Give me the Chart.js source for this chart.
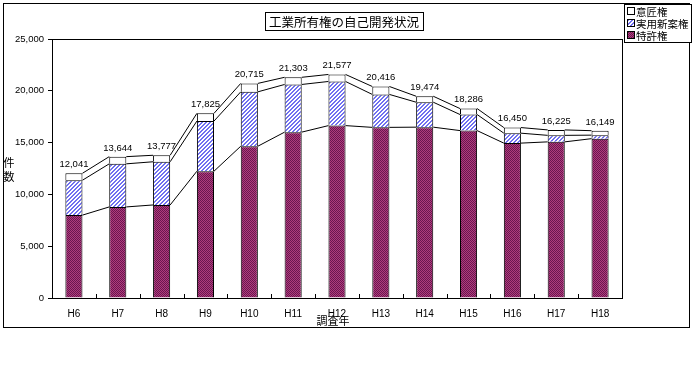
<!DOCTYPE html>
<html>
<head>
<meta charset="utf-8">
<script src="https://cdn.jsdelivr.net/npm/chart.js@4.4.1/dist/chart.umd.min.js"></script>
<style>
  html, body { margin: 0; padding: 0; background: #fff; }
  #wrap { width: 694px; height: 384px; }
</style>
</head>
<body>
<div id="wrap"><canvas id="chart" width="694" height="384"></canvas></div>
<script>
// data
const categories = ["H6", "H7", "H8", "H9", "H10", "H11", "H12", "H13", "H14", "H15", "H16", "H17", "H18"];
const patentValues = [8000, 8790, 8980, 12240, 14650, 16010, 16640, 16470, 16490, 16160, 14950, 15070, 15380];
const utilityValues = [3370, 4160, 4170, 4840, 5250, 4600, 4260, 3180, 2410, 1550, 960, 630, 340];
const designValues = [671, 694, 627, 745, 815, 693, 677, 766, 574, 576, 540, 525, 429];
const totalLabels = [12041, 13644, 13777, 17825, 20715, 21303, 21577, 20416, 19474, 18286, 16450, 16225, 16149];
const yTicks = [0, 5000, 10000, 15000, 20000, 25000];

const titleText = "工業所有権の自己開発状況";
const seriesNames = ["特許権", "実用新案権", "意匠権"];

const numFont = "'Liberation Sans', Arial, sans-serif";
const jpFont = "'Noto Sans CJK JP', sans-serif";

// fill patterns
function makeChecker() {
  const c = document.createElement("canvas");
  c.width = 2; c.height = 2;
  const g = c.getContext("2d");
  g.fillStyle = "#b03c7c"; g.fillRect(0, 0, 2, 2);
  g.fillStyle = "#6a1650"; g.fillRect(0, 0, 1, 1); g.fillRect(1, 1, 1, 1);
  return c;
}
function makeHatch() {
  const c = document.createElement("canvas");
  c.width = 4; c.height = 4;
  const g = c.getContext("2d");
  g.fillStyle = "#ffffff"; g.fillRect(0, 0, 4, 4);
  g.fillStyle = "#7070f0";
  for (let i = 0; i < 4; i++) {
    g.fillRect((3 - i) % 4, i, 2, 1);
    if ((3 - i) + 2 > 4) g.fillRect(0, i, (3 - i) + 2 - 4, 1);
  }
  return c;
}
const ctx = document.getElementById("chart").getContext("2d");
const maroonFill = ctx.createPattern(makeChecker(), "repeat");
const hatchFill = ctx.createPattern(makeHatch(), "repeat");
const fills = [maroonFill, hatchFill, "#ffffff"];

// frame, title, legend, labels, series lines
const decor = {
  id: "decor",
  beforeDraw(chart) {
    const c = chart.ctx;
    c.save();
    c.fillStyle = "#fff";
    c.fillRect(0, 0, chart.width, chart.height);
    c.strokeStyle = "#000";
    c.lineWidth = 1;
    c.strokeRect(3.5, 3.5, 686, 324);
    c.restore();
  },
  afterDatasetsDraw(chart) {
    const c = chart.ctx;
    c.save();
    c.strokeStyle = "#000";
    c.lineWidth = 1;
    for (let d = 0; d < 3; d++) {
      const bars = chart.getDatasetMeta(d).data;
      for (let i = 0; i < bars.length - 1; i++) {
        const a = bars[i], b = bars[i + 1];
        c.beginPath();
        c.moveTo(a.x + a.width / 2, a.y);
        c.lineTo(b.x - b.width / 2, b.y);
        c.stroke();
      }
    }
    // totals above the bars
    const top = chart.getDatasetMeta(2).data;
    c.fillStyle = "#000";
    c.font = "9.5px " + numFont;
    c.textAlign = "center";
    c.textBaseline = "bottom";
    top.forEach((bar, i) => {
      c.fillText(totalLabels[i].toLocaleString("en-US"), bar.x, bar.y - 4);
    });
    c.restore();
  },
  afterDraw(chart) {
    const c = chart.ctx;
    const area = chart.chartArea;
    const x = chart.scales.x;
    c.save();
    c.strokeStyle = "#000";
    c.lineWidth = 1;
    c.strokeRect(Math.round(area.left) + 0.5, Math.round(area.top) + 0.5,
      Math.round(area.right - area.left), Math.round(area.bottom - area.top));
    // x tick marks between categories, pointing up
    const step = x.getPixelForValue(1) - x.getPixelForValue(0);
    for (let i = 0; i <= categories.length; i++) {
      const px = Math.round(x.getPixelForValue(i) - step / 2) + 0.5;
      c.beginPath();
      c.moveTo(px, area.bottom);
      c.lineTo(px, area.bottom - 4);
      c.stroke();
    }
    // title box
    c.font = "12.5px " + jpFont;
    c.textAlign = "center";
    c.textBaseline = "middle";
    const tw = c.measureText(titleText).width;
    const tx = 344;
    c.fillStyle = "#fff";
    c.fillRect(tx - tw / 2 - 4, 12, tw + 8, 19);
    c.strokeRect(Math.round(tx - tw / 2 - 4) + 0.5, 12.5, Math.round(tw + 8), 18);
    c.fillStyle = "#000";
    c.fillText(titleText, tx, 22);
    // axis titles
    c.font = "11px " + jpFont;
    c.fillText("件", 9, 163);
    c.fillText("数", 9, 177);
    c.fillText("調査年", 333, 321);
    // legend
    c.fillStyle = "#fff";
    c.fillRect(624, 4, 68, 39);
    c.strokeRect(624.5, 4.5, 67, 38);
    const order = [2, 1, 0];
    c.textAlign = "left";
    c.font = "10.5px " + jpFont;
    order.forEach((d, k) => {
      const y = 11 + k * 12;
      c.fillStyle = fills[d];
      c.fillRect(627, y - 3, 7, 7);
      c.strokeRect(627.5, y - 3.5, 7, 7);
      c.fillStyle = "#000";
      c.fillText(seriesNames[d], 636, y + 1);
    });
    c.restore();
  }
};

const chart = new Chart(ctx, {
  type: "bar",
  data: {
    labels: categories,
    datasets: [
      { label: seriesNames[0], data: patentValues, backgroundColor: maroonFill },
      { label: seriesNames[1], data: utilityValues, backgroundColor: hatchFill },
      { label: seriesNames[2], data: designValues, backgroundColor: "#ffffff" }
    ].map(ds => Object.assign(ds, {
      borderColor: "#000",
      borderWidth: 1,
      borderSkipped: "start",
      categoryPercentage: 1,
      barPercentage: 0.39
    }))
  },
  options: {
    responsive: false,
    animation: false,
    devicePixelRatio: 1,
    layout: { padding: { left: 0, right: 72, top: 39, bottom: 0 } },
    plugins: {
      legend: { display: false },
      title: { display: false },
      tooltip: { enabled: false }
    },
    scales: {
      x: {
        stacked: true,
        grid: { display: false },
        border: { display: true, color: "#000" },
        ticks: { color: "#000", font: { family: numFont, size: 10 }, padding: 2, maxRotation: 0 },
        afterFit(scale) { scale.height = 86; }
      },
      y: {
        stacked: true,
        min: 0,
        max: 25000,
        afterBuildTicks(scale) { scale.ticks = yTicks.map(v => ({ value: v })); },
        grid: { display: true, drawOnChartArea: false, drawTicks: true, tickLength: 4, color: "#000" },
        border: { display: true, color: "#000" },
        ticks: {
          color: "#000",
          padding: 4,
          font: { family: numFont, size: 9.5 },
          callback: v => v.toLocaleString("en-US")
        },
        afterFit(scale) { scale.width = 52; }
      }
    }
  },
  plugins: [decor]
});
</script>
</body>
</html>
